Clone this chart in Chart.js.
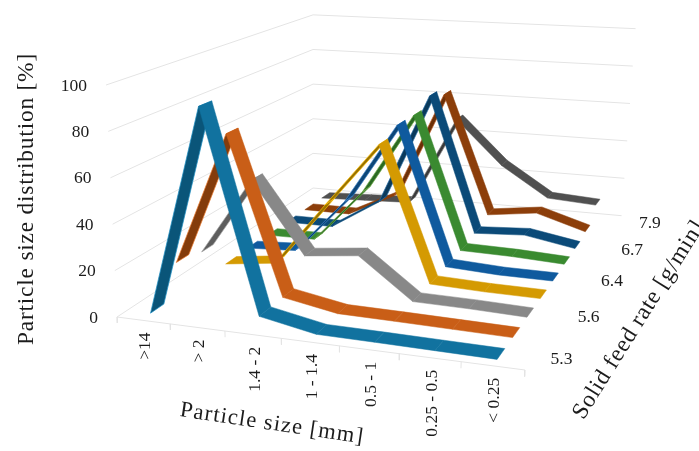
<!DOCTYPE html>
<html>
<head>
<meta charset="utf-8">
<title>Particle size distribution</title>
<script src="https://cdn.jsdelivr.net/npm/chart.js@4"></script>
<style>
  html, body { margin: 0; padding: 0; background: #fff; }
  canvas { display: block; }
</style>
</head>
<body>
<canvas id="grafico" width="699" height="451"></canvas>
<script>
const categories = ['>14', '> 2', '1.4 - 2', '1 - 1.4', '0.5 - 1', '0.25 - 0.5', '< 0.25'];
const depthLabels = ['5.3', '', '5.6', '', '6.4', '', '6.7', '', '7.9'];
const valueTicks = [0, 20, 40, 60, 80, 100];

// front to back
const series1 = [1, 92, 5.5, 1, 0.8, 0.5, 0.2];
const series2 = [15.5, 75, 5.5, 1.3, 1, 0.6, 0.2];
const series3 = [13, 48.5, 16.3, 18.9, 1.3, 1, 0.3];
const series4 = [0, 3, 33, 63, 1.3, 0.5, 0.3];
const series5 = [0.5, 1.8, 28, 66.7, 1.7, 0.5, 0.4];
const series6 = [0, 0.3, 26.5, 66.5, 2.2, 1.8, 0.7];
const series7 = [0, 0, 15, 71.4, 3.7, 5.2, 1];
const series8 = [0, 0, 12, 67.4, 6.4, 9.6, 2.4];
const series9 = [0, 1, 2, 49.3, 26.3, 11, 9.5];
const allSeries = [series1, series2, series3, series4, series5, series6, series7, series8, series9];

const topColors = ['#11729f', '#c95e17', '#888888', '#d49a02', '#0f5a9e', '#3a8a30', '#0b4a78', '#8c3e0a', '#505050'];
const sideColors = ['#0a5579', '#843c0b', '#5e5e5e', '#9a7300', '#0c4678', '#2b6a23', '#0a3a5c', '#6b3008', '#3a3a3a'];
const edgeColors = ['#1c8fc4', '#ed7d31', '#a5a5a5', '#ffc000', '#3f82c8', '#70ad47', '#2a6ea8', '#c0602a', '#7f7f7f'];

// camera fitted on the floor corners and the walls of the original
function project(u, v, w) {
  const d = 1 - 0.10053 * u + 0.33992 * v;
  const fx = (355.22 * u + 302.39 * v + 117) / d;
  const fy = (15.8 * u - 65.09 * v + 317) / d;
  return {
    x: fx + w * (0.056 * fx - 17.5) / d,
    y: fy - w * 232 / d
  };
}

function lineSet(points, order) {
  return {
    data: points, order: order, showLine: true, fill: false, tension: 0,
    borderColor: '#e4e4e4', borderWidth: 1, pointRadius: 0
  };
}

const datasets = [];

// walls and floor
valueTicks.forEach(t => {
  const w = t / 100;
  datasets.push(lineSet([project(0, 0, w), project(0, 1, w), project(0.99, 1, w)], 1000));
});
datasets.push(lineSet([project(0, 0, 0), project(1, 0, 0)], 1000));
for (let i = 0; i <= categories.length; i++) {
  const u = i / categories.length;
  datasets.push(lineSet([project(u, 0, 0), project(u, 0, -0.026)], 1000));
}

// ribbons
const halfDepth = 0.027;
allSeries.forEach((values, j) => {
  const v = (j + 0.5) / allSeries.length;
  for (let i = 0; i < values.length - 1; i++) {
    const u0 = (i + 0.5) / values.length;
    const u1 = (i + 1.5) / values.length;
    const quad = [
      project(u0, v - halfDepth, values[i] / 100),
      project(u1, v - halfDepth, values[i + 1] / 100),
      project(u1, v + halfDepth, values[i + 1] / 100),
      project(u0, v + halfDepth, values[i] / 100)
    ];
    let area = 0;
    quad.forEach((p, k) => {
      const q = quad[(k + 1) % 4];
      area += p.x * q.y - q.x * p.y;
    });
    const underside = area > 0;
    datasets.push({
      data: quad.concat([quad[0]]),
      order: j * 10 + (values.length - i),
      showLine: true, tension: 0, pointRadius: 0, fill: 'shape',
      backgroundColor: underside ? sideColors[j] : topColors[j],
      borderColor: underside ? edgeColors[j] : topColors[j],
      borderWidth: underside ? 0.7 : 0.5
    });
  }
});

function drawText(ctx, text, x, y, size, angle, align, spacing) {
  ctx.save();
  ctx.translate(x, y);
  ctx.rotate(angle * Math.PI / 180);
  ctx.font = size + 'px "Liberation Serif"';
  ctx.letterSpacing = (spacing || 0) + 'px';
  ctx.fillStyle = '#1c1c1c';
  ctx.textAlign = align;
  ctx.textBaseline = 'middle';
  ctx.fillText(text, 0, 0);
  ctx.restore();
}

const labelsPlugin = {
  id: 'labels3d',
  afterDraw(chart) {
    const ctx = chart.ctx;
    valueTicks.forEach(t => {
      const p = project(0, 0, t / 100);
      drawText(ctx, String(t), p.x - 19, p.y + 1, 17.5, 0, 'right');
    });
    categories.forEach((c, i) => {
      const p = project((i + 0.5) / categories.length, 0, 0);
      drawText(ctx, c, p.x + 2, p.y + 12, 17.5, -90, 'right');
    });
    depthLabels.forEach((d, j) => {
      if (!d) return;
      const p = project(1, (j + 0.5) / depthLabels.length, 0);
      drawText(ctx, d, p.x + 29, p.y + 1, 17.5, 0, 'center');
    });
    drawText(ctx, 'Particle size distribution [%]', 27, 199, 23.5, -90, 'center', 0.75);
    drawText(ctx, 'Particle size [mm]', 272, 424, 22.5, 8.5, 'center', 1.15);
    drawText(ctx, 'Solid feed rate [g/min]', 639, 320, 23.5, -58, 'center', 0.7);
  }
};

new Chart(document.getElementById('grafico').getContext('2d'), {
  type: 'scatter',
  data: { datasets: datasets },
  options: {
    responsive: false,
    animation: false,
    layout: { padding: 0 },
    plugins: { legend: { display: false }, tooltip: { enabled: false } },
    scales: {
      x: { type: 'linear', display: false, min: 0, max: 699 },
      y: { type: 'linear', display: false, min: 0, max: 451, reverse: true }
    }
  },
  plugins: [labelsPlugin]
});
</script>
</body>
</html>
